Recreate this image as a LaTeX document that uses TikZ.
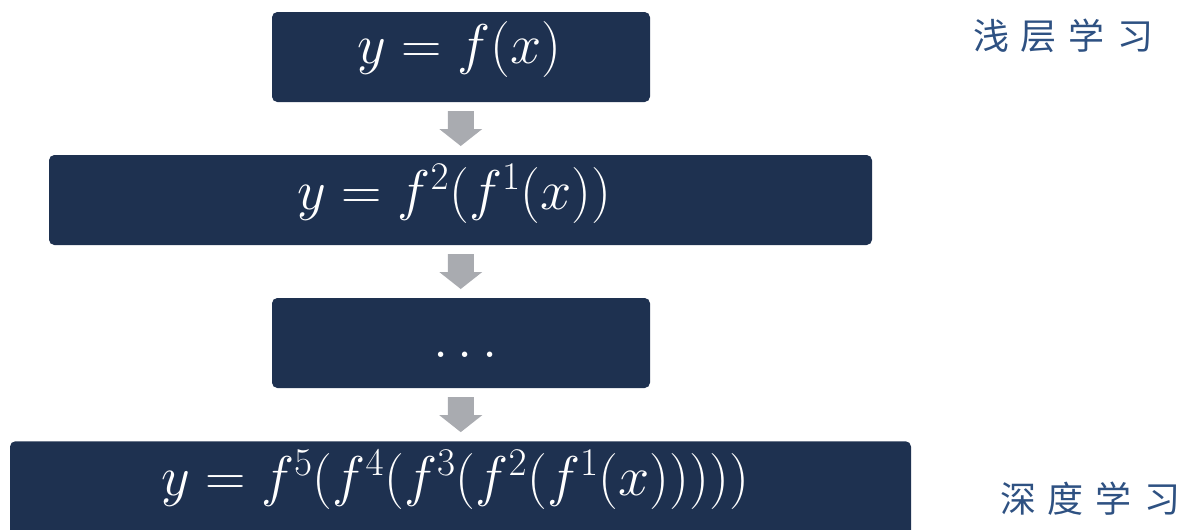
\RequirePackage{fix-cm}
\documentclass[tikz,border=0pt]{standalone}
\usepackage{fontspec}
\newfontfamily\cjk{Noto Sans CJK SC}
\usetikzlibrary{calc}
\definecolor{boxblue}{HTML}{1E3150}
\definecolor{arrowgray}{HTML}{A9ABB0}
\definecolor{labelblue}{HTML}{2E5182}
\tikzset{
  fbox/.style={fill=boxblue, draw=none, rounded corners=4pt, inner sep=0pt, minimum height=67.5pt},
  ftext/.style={text=white, font=\fontsize{42}{50}\selectfont, inner sep=0pt},
  lbl/.style={text=labelblue, font=\cjk\fontsize{27}{32}\selectfont, inner sep=0pt}
}
\newcommand{\blockarrow}[1]{%
  \fill[arrowgray] ($(#1)+(-13,-17.5)$) -- ($(#1)+(13,-17.5)$) -- ($(#1)+(13,0.5)$)
    -- ($(#1)+(21.5,0.5)$) -- ($(#1)+(0,17.5)$) -- ($(#1)+(-21.5,0.5)$)
    -- ($(#1)+(-13,0.5)$) -- cycle;}
\begin{document}
\begin{tikzpicture}[x=0.75pt,y=-0.75pt]
\useasboundingbox (0,0) rectangle (1186,529);
\begin{scope}
\clip (0,0) rectangle (1186,529);
\node[fbox, minimum width=283.5pt] (b1) at (461,57) {};
\node[fbox, minimum width=617.25pt] (b2) at (460.5,200) {};
\node[fbox, minimum width=283.5pt] (b3) at (461,343) {};
\node[fbox, minimum width=675.75pt, minimum height=75pt, anchor=north] (b4) at (460.5,441) {};
\node[ftext] (t1) at ($(b1.center)+(-2,-8)$) {$y=f(x)$};
\node[ftext] (t2) at ($(b2.center)+(-6,-6)$) {$y=f^2(f^1(x))$};
\node[ftext] (t3) at ($(b3.center)+(0,0)$) {$\vphantom{y(x)}\ldots$};
\node[ftext] (t4) at (455,480) {$y=f^5(f^4(f^3(f^2(f^1(x)))))$};
\end{scope}
\coordinate (m1) at ($(b1.south)!0.5!(b2.north)$);
\coordinate (m2) at ($(b2.south)!0.5!(b3.north)$);
\coordinate (m3) at ($(b3.south)!0.5!(b4.north)$);
\blockarrow{m1}
\blockarrow{m2}
\blockarrow{m3}
\node[lbl] (l1) at (1063,36) {浅\hspace{9pt}层\hspace{9pt}学\hspace{9pt}习};
\node[lbl] (l2) at (1090,499) {深\hspace{9pt}度\hspace{9pt}学\hspace{9pt}习};
\end{tikzpicture}
\end{document}
